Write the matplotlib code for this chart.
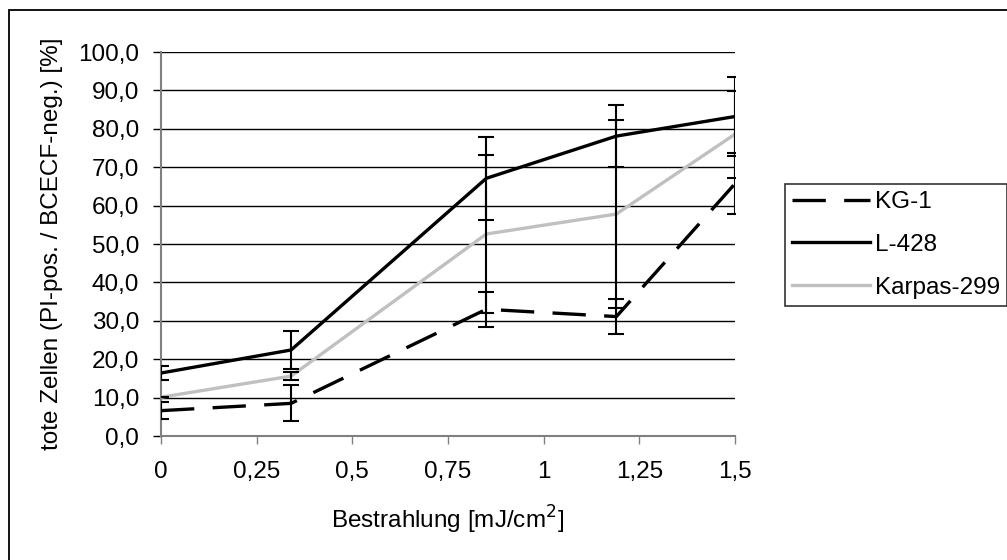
import numpy as np
import matplotlib
matplotlib.use("Agg")
import matplotlib.pyplot as plt
from matplotlib.patches import Rectangle

plt.rcParams["font.family"] = ["Liberation Sans", "DejaVu Sans"]

# data
dose = [0, 0.34, 0.85, 1.19, 1.5]

kg1 = [6.6, 8.5, 33.0, 31.1, 65.7]
kg1_err = [2.2, 4.7, 4.6, 4.5, 8.0]

l428 = [16.4, 22.4, 67.1, 78.1, 83.2]
l428_err = [1.8, 5.0, 10.8, 8.0, 10.4]

karpas = [10.1, 15.6, 52.6, 57.8, 78.6]
karpas_err = [0.0, 1.0, 20.5, 24.5, 11.3]

x_ticks = [0, 0.25, 0.5, 0.75, 1, 1.25, 1.5]
x_ticklabels = ["0", "0,25", "0,5", "0,75", "1", "1,25", "1,5"]
y_ticks = np.arange(0, 101, 10)

W, H = 1007, 560
fig = plt.figure(figsize=(W / 100, H / 100), dpi=100)
ax = fig.add_axes([161 / W, 1 - 436 / H, (735 - 161) / W, (436 - 52) / H])

fs = 17.5

# lines
ax.plot(dose, kg1, color="black", lw=2.4, ls=(0, (10, 5.5)), label="KG-1", zorder=3)
ax.plot(dose, l428, color="black", lw=2.4, label="L-428", zorder=3)
ax.plot(dose, karpas, color="#c0c0c0", lw=2.4, label="Karpas-299", zorder=3)

# error bars on top
for vals, errs in [(kg1, kg1_err), (l428, l428_err), (karpas, karpas_err)]:
    ax.errorbar(dose, vals, yerr=errs, fmt="none", ecolor="black",
                elinewidth=1.5, capsize=6, capthick=1.5, zorder=4)

ax.set_xlim(0, 1.5)
ax.set_ylim(0, 100)
ax.set_xticks(x_ticks)
ax.set_xticklabels(x_ticklabels)
ax.set_yticks(y_ticks)
ax.set_yticklabels([("%.1f" % v).replace(".", ",") for v in y_ticks])

ax.yaxis.grid(True, color="black", lw=1.0)
ax.set_axisbelow(True)
for s in ["top", "right"]:
    ax.spines[s].set_visible(False)
for s in ["left", "bottom"]:
    ax.spines[s].set_color("#808080")
    ax.spines[s].set_linewidth(1.5)
ax.tick_params(axis="y", length=5.8, width=1, color="black", pad=10, labelsize=fs)
ax.tick_params(axis="x", length=5.8, width=1, color="#808080", pad=12, labelsize=fs)

ax.set_ylabel("tote Zellen (PI-pos. / BCECF-neg.) [%]", fontsize=fs, labelpad=11)
ax.set_xlabel("Bestrahlung [mJ/cm$^2$]", fontsize=fs, labelpad=15)

leg = fig.legend(loc="upper left", bbox_to_anchor=(785 / W, 1 - 184 / H),
                 bbox_transform=fig.transFigure, borderaxespad=0,
                 fontsize=fs, frameon=True, fancybox=False, handlelength=3.2,
                 handletextpad=0.2, labelspacing=0.85, borderpad=0.3)
leg.get_frame().set_edgecolor("black")
leg.get_frame().set_linewidth(1.2)

# outer frame of the chart area (runs off right/bottom edge)
fig.patches.append(Rectangle((9 / W, -0.1), 1.2, 1.1 - 10 / H, transform=fig.transFigure,
                             fill=False, edgecolor="black", lw=1.3))

fig.savefig("out.png", dpi=100)
